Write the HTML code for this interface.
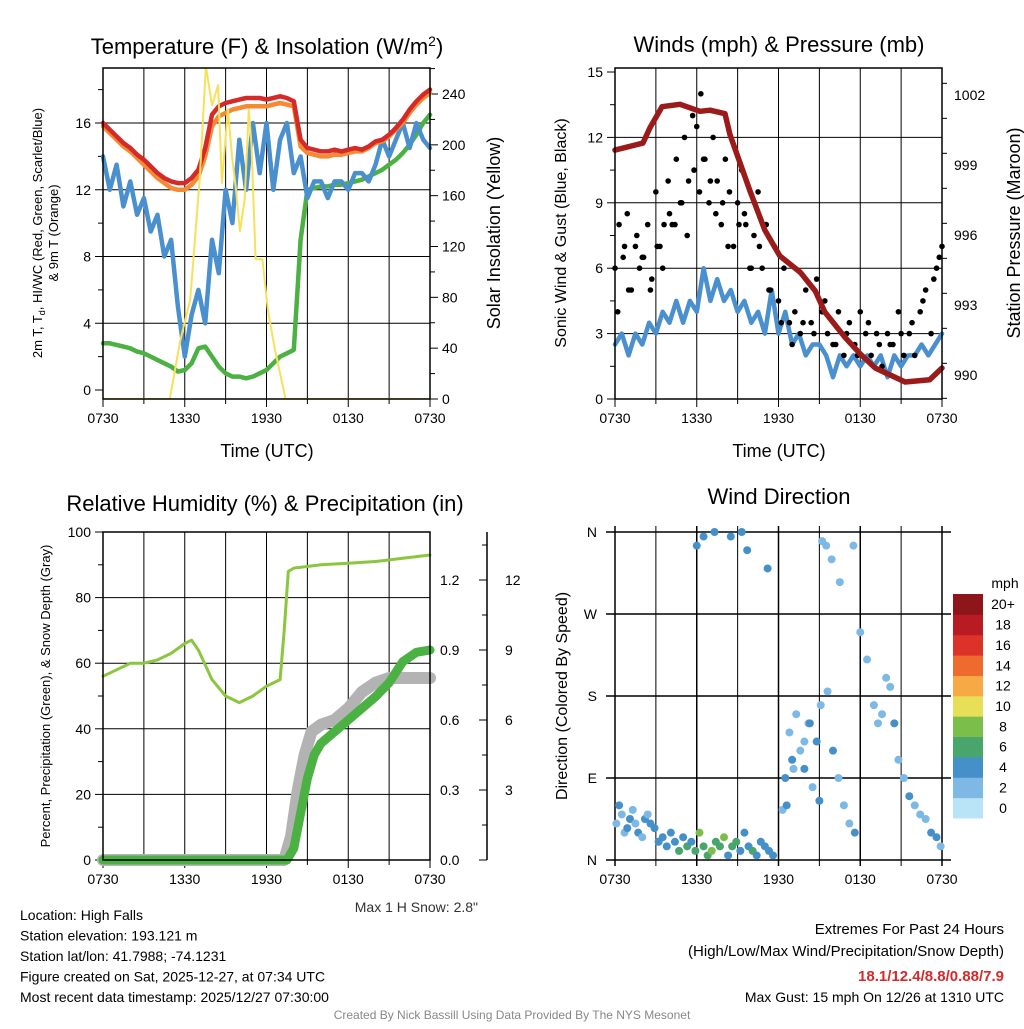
<!DOCTYPE html>
<html><head><meta charset="utf-8"><style>
body{margin:0;background:#fff;}
svg{font-family:"Liberation Sans",Arial,sans-serif;}
</style></head><body>
<svg id="s" width="1024" height="1024" xmlns="http://www.w3.org/2000/svg"></svg>
<script>
// ===== data =====
const xTickLabels=["0730","1330","1930","0130","0730"];
const tempRed=[16,15.6,15.2,14.8,14.5,14.1,13.8,13.4,13.0,12.7,12.5,12.4,12.4,12.7,13.2,14.5,16.5,17.0,17.2,17.3,17.4,17.5,17.5,17.5,17.4,17.5,17.6,17.5,17.3,15.0,14.5,14.4,14.3,14.3,14.4,14.3,14.4,14.5,14.4,14.6,14.9,15.0,15.3,15.7,16.2,16.8,17.3,17.7,18.0];
const tempOrange=[15.8,15.4,15.0,14.6,14.3,13.9,13.5,13.1,12.7,12.4,12.1,12.0,12.0,12.3,12.8,14.0,15.8,16.4,16.6,16.8,16.9,17.0,17.0,17.0,17.0,17.1,17.2,17.1,17.0,14.6,14.2,14.1,14.0,14.0,14.1,14.1,14.2,14.3,14.3,14.5,14.8,14.9,15.2,15.6,16.0,16.6,17.1,17.5,17.8];
const tempGreen=[2.8,2.8,2.7,2.6,2.5,2.3,2.2,2.0,1.8,1.6,1.4,1.1,1.2,1.6,2.5,2.6,2.0,1.4,1.0,0.8,0.8,0.7,0.8,1.0,1.2,1.6,2.0,2.2,2.4,9,12,12.1,12.2,12.2,12.3,12.3,12.4,12.5,12.6,12.8,13,13.2,13.5,13.8,14.2,14.7,15.3,16.0,16.5];
const tempBlue=[14,12,13.5,11,12.5,10.5,11.5,9.5,10.5,8,9,5,2,4.5,6,4,9,7,12,10,15,12,16,13,16,12,15,16,13,14,11.5,12.5,12.5,11.5,12.5,12.5,12,13,13,12.5,13.5,15,14,15,16,14.5,16,15,14.5];
const solarHours=[0,4.9,5.65,6.4,7.1,7.55,8.0,8.45,8.73,9.17,9.47,9.76,10.05,10.4,10.7,10.9,11.2,11.7,12.1,12.6,13.4,24];
const solarValues=[0,0,45,78,173,262,231,247,170,228,191,165,132,157,228,200,110,110,70,40,0,0];
// winds panel
const sonicWind=[2.5,3,2,3,2.5,3.5,3,4,3.5,4.5,3.5,4.5,4,6,4.5,5.5,4.5,5,4,4.5,3.5,4,3,5,3,4,2.5,3,2,2.5,2.5,2,1,2,1.5,2,1.5,2,1.5,2,1,2,1.5,2,2,2.5,2,2.5,3];
const pressureHours=[0,2.05,2.57,3.45,4.77,6.24,6.97,8.07,8.44,9.9,11.0,12.1,13.6,14.7,15.4,16.9,18.0,19.1,21.3,23.1,24];
const pressure=[999.64,999.94,1000.6,1001.5,1001.6,1001.3,1001.35,1001.2,1000.3,997.9,996.2,995.1,994.4,993.6,992.7,991.6,990.9,990.3,989.7,989.8,990.3];
const gustHours=[0,0.3,0.6,0.9,1.2,1.5,1.8,2.1,2.4,2.7,3.0,3.3,3.6,3.9,4.2,4.5,4.8,5.1,5.4,5.7,6.0,6.3,6.6,6.9,7.2,7.5,7.8,8.1,8.4,8.7,9.0,9.3,9.6,9.9,10.2,10.5,10.8,11.1,11.4,11.7,12.0,12.4,12.8,13.2,13.6,14.0,14.4,14.8,15.2,15.6,16.0,16.4,16.8,17.2,17.6,18.0,18.4,18.8,19.2,19.6,20.0,20.4,20.8,21.2,21.6,22.0,22.4,22.8,23.2,23.6,24,
 0.2,0.7,1.0,1.6,2.0,2.6,3.1,3.5,4.0,4.4,4.9,5.3,5.8,6.2,6.5,7.0,7.4,7.9,8.3,9.1,9.5,10.0,10.6,11.3,12.2,13.0,13.8,14.6,15.4,16.2,17.0,17.8,18.6,19.4,20.2,21.0,21.8,22.6,23.4,23.8];
const gustValues=[6,8,6.5,8.5,5,7,6,6.5,8,5.5,9.5,7,8,10,8,11,9,12,10,13,12.5,14,11,9,12,10,8,11,9.5,7,9,10.5,8,6,7.5,9.5,6,8,5,7,4.5,6,3.5,4,3,5,3.5,5.5,4,3,2.5,4,2,3.5,2.5,4,3,2,3,1.5,3,2.5,4,2,3,2,4,5,3,6,7,
 4,7,5,7.5,6.5,5,7,6,8.5,8,9,7.5,10.5,9.5,11,10,8.5,9,7,8,8.5,6,7,5,3.5,2.5,3.5,3,4.5,2.5,3,2,3.5,2.5,2.5,3,3.5,4.5,5.5,6.5];
// RH panel
const rhHours=[0,1,2,3,4,5,6,6.5,7,8,9,10,11,12,13,13.3,13.6,14,16,18,20,22,24];
const rhValues=[56,58,60,60,61,63,66,67,64,55,50,48,50,53,55,70,88,89,90,90.5,91,92,93];
const precipHours=[0,13.5,14,14.5,15,15.5,16,17,18,19,20,21,22,23,24];
const precipValues=[0,0,0.05,0.2,0.35,0.45,0.5,0.55,0.6,0.65,0.7,0.76,0.85,0.89,0.9];
const snowHours=[0,13.3,13.8,14.3,14.8,15.3,16,17,18,19,20,21,22,24];
const snowValues=[0,0,0.1,0.3,0.45,0.55,0.58,0.6,0.65,0.72,0.76,0.78,0.78,0.78];
// wind direction panel
const dirHours=[0.1,0.3,0.5,0.7,0.9,1.1,1.3,1.5,1.7,2.0,2.2,2.4,2.6,2.9,3.2,3.5,3.8,4.1,4.4,4.7,5.0,5.3,5.6,5.9,6.2,6.5,6.8,7.1,7.4,7.7,8.0,8.3,8.6,8.9,9.2,9.5,9.8,10.1,10.4,10.7,11.0,11.3,11.6,6.5,7.3,8.5,9.3,9.7,6.0,11.2,12.3,12.5,12.8,13.0,13.3,13.6,13.9,14.2,14.5,14.8,15.1,12.6,13.1,13.9,14.3,15.0,15.6,16.0,16.4,16.8,17.2,17.6,15.2,15.5,15.9,16.5,17.5,18.0,18.5,19.0,19.3,19.6,19.9,20.2,20.5,20.8,21.2,21.6,22.0,22.4,22.8,23.2,23.6,23.9];
const dirDegrees=[40,60,50,30,35,45,55,40,30,25,45,50,40,35,20,25,15,30,20,10,25,15,20,10,30,15,5,10,20,15,25,5,15,20,10,30,15,10,5,20,15,10,5,355,360,355,360,340,345,320,55,90,140,110,160,120,100,150,80,130,170,60,100,130,150,65,185,120,90,60,40,30,350,345,330,305,345,250,220,170,150,160,200,190,150,110,90,70,60,50,45,30,25,15];
const dirSpeeds=[2,3,2,2,3,3,1,2,3,2,3,2,3,4,4,3,4,3,4,5,4,6,4,5,7,6,5,8,5,6,7,4,6,5,4,3,4,5,4,3,4,3,4,3,4,4,3,4,3,4,1,3,1,3,2,1,3,1,2,3,1,3,2,1,3,3,1,3,1,2,1,3,1,1,2,1,1,1,1,1,2,1,1,1,3,1,1,3,2,2,2,3,3,2];
const cbLabels=["0","2","4","6","8","10","12","14","16","18","20+"];
const cbColors=["#b9e3f7","#7db9e4","#4690c9","#48a56c","#7bbf4a","#e6df57","#f6a945","#ef6a2d","#dc3229","#b91b24","#8e1519"];

// ===== helpers =====
const S=document.getElementById('s');const NS="http://www.w3.org/2000/svg";
function el(tag,attrs,txt,parent){const e=document.createElementNS(NS,tag);for(const k in attrs)e.setAttribute(k,attrs[k]);if(txt!==undefined)e.textContent=txt;(parent||S).appendChild(e);return e;}
function txt(x,y,s,size,anchor,extra){return el('text',Object.assign({x:x,y:y,'font-size':size,'text-anchor':anchor||'middle',fill:'#000'},extra||{}),s);}
function lin(a0,a1,p0,p1){return v=>p0+(v-a0)*(p1-p0)/(a1-a0);}
function path(xs,ys,fx,fy,stroke,w,name,clip){let d='';for(let i=0;i<xs.length;i++)d+=(i?'L':'M')+fx(xs[i]).toFixed(1)+','+fy(ys[i]).toFixed(1);const a={d:d,fill:'none',stroke:stroke,'stroke-width':w,'stroke-linejoin':'round','stroke-linecap':'round'};if(clip)a['clip-path']='url(#'+clip+')';const p=el('path',a);return p;}
const half=n=>Array.from({length:n},(_,i)=>i*0.5);
const defs=el('defs',{});
function clipRect(id,x0,y0,x1,y1){const c=el('clipPath',{id:id},undefined,defs);el('rect',{x:x0,y:y0,width:x1-x0,height:y1-y0},undefined,c);}
function xAxis(x0,x1,y){const fx=lin(0,24,x0,x1);
 for(let h=0;h<=24;h+=3){const x=fx(h);const l=el('line',{x1:x,x2:x,y1:y,y2:y+(h%6==0?8:5),stroke:'#000','stroke-width':1});}
 xTickLabels.forEach((s,i)=>{const t=txt(fx(i*6),y+24,s,14);});
 return fx;}
function grid(x0,x1,y0,y1,fx,ys){for(let h=3;h<24;h+=3){el('line',{x1:fx(h),x2:fx(h),y1:y0,y2:y1,stroke:'#000','stroke-width':1});}
 ys.forEach(y=>el('line',{x1:x0,x2:x1,y1:y,y2:y,stroke:'#000','stroke-width':1}));}
function box(x0,y0,x1,y1,name){const r=el('rect',{x:x0,y:y0,width:x1-x0,height:y1-y0,fill:'none',stroke:'#000','stroke-width':1.5});}

// ===== Panel 1: temperature =====
{const X0=103,X1=430,Y0=68,Y1=399;
 clipRect('c1',X0,Y0,X1,Y1);
 const fx=xAxis(X0,X1,Y1);const fy=lin(0,16,390,123);const fs=lin(0,240,399,94);
 grid(X0,X1,Y0,Y1,fx,[fy(4),fy(8),fy(12),fy(16)]);
 for(let v=0;v<=18;v+=2){const y=fy(v);el('line',{x1:X0-(v%4==0?8:5),x2:X0,y1:y,y2:y,stroke:'#000'});}
 [0,4,8,12,16].forEach(v=>{const t=txt(X0-12,fy(v)+5,String(v),14,'end');});
 for(let v=0;v<=260;v+=20){const y=fs(v);if(y<Y0)continue;el('line',{x1:X1,x2:X1+(v%40==0?8:5),y1:y,y2:y,stroke:'#000'});}
 [0,40,80,120,160,200,240].forEach(v=>{const t=txt(X1+12,fs(v)+5,String(v),14,'start');});
 path(half(49),tempGreen,fx,fy,'#4cb143',4.5,'hiwc-line');
 path(half(49),tempBlue,fx,fy,'#4a90cf',4.5,'dewpoint-line');
 path(half(49),tempOrange,fx,fy,'#f58a33',4.5,'temp-9m-line');
 path(half(49),tempRed,fx,fy,'#d42a2a',4.5,'temp-2m-line');
 path(solarHours,solarValues,fx,fs,'#f6e25a',2,'solar-line','c1');
 box(X0,Y0,X1,Y1,'temp-plot-frame');
 const t=el('text',{x:267,y:54,'font-size':22,'text-anchor':'middle'});t.innerHTML='Temperature (F) &amp; Insolation (W/m<tspan dy="-8" font-size="14">2</tspan><tspan dy="8">)</tspan>';
 let a=txt(267,457,'Time (UTC)',18);
 a=el('text',{'font-size':13,'text-anchor':'middle',transform:'translate(42,233) rotate(-90)'});a.innerHTML='2m T, T<tspan dy="3" font-size="9">d</tspan><tspan dy="-3">, HI/WC (Red, Green, Scarlet/Blue)</tspan>';
 a=el('text',{'font-size':13,'text-anchor':'middle',transform:'translate(58,233) rotate(-90)'},'& 9m T (Orange)');
 a=el('text',{'font-size':18,'text-anchor':'middle',transform:'translate(500,233) rotate(-90)'},'Solar Insolation (Yellow)');
}
// ===== Panel 2: winds =====
{const X0=615,X1=942,Y0=68,Y1=399;
 const fx=xAxis(X0,X1,Y1);const fy=lin(0,15,399,72);const fp=lin(990,1002,375,95);
 grid(X0,X1,Y0,Y1,fx,[fy(3),fy(6),fy(9),fy(12)]);
 for(let v=0;v<=15;v+=1.5){const y=fy(v);el('line',{x1:X0-(v%3==0?8:5),x2:X0,y1:y,y2:y,stroke:'#000'});}
 [0,3,6,9,12,15].forEach(v=>{const t=txt(X0-12,fy(v)+5,String(v),14,'end');});
 for(let v=989;v<=1003;v+=1.5){const y=fp(v);if(y<Y0||y>Y1)continue;el('line',{x1:X1,x2:X1+((v-990)%3==0?8:5),y1:y,y2:y,stroke:'#000'});}
 [990,993,996,999,1002].forEach(v=>{const t=txt(X1+12,fp(v)+5,String(v),14,'start');});
 path(half(49),sonicWind,fx,fy,'#4a90cf',4.5,'sonic-wind-line');
 gustHours.forEach((h,i)=>{const c=el('circle',{cx:fx(h),cy:fy(gustValues[i]),r:2.8,fill:'#000'});});
 path(pressureHours,pressure,fx,fp,'#9b1b1b',5.5,'pressure-line');
 box(X0,Y0,X1,Y1,'winds-plot-frame');
 let a=txt(779,52,'Winds (mph) & Pressure (mb)',22);
 a=txt(779,457,'Time (UTC)',18);
 a=el('text',{'font-size':16,'text-anchor':'middle',transform:'translate(566,233) rotate(-90)'},'Sonic Wind & Gust (Blue, Black)');
 a=el('text',{'font-size':18,'text-anchor':'middle',transform:'translate(1020,233) rotate(-90)'},'Station Pressure (Maroon)');
}
// ===== Panel 3: RH & precip =====
{const X0=103,X1=430,Y0=532,Y1=860;
 const fx=xAxis(X0,X1,Y1);const fy=lin(0,100,860,532);const fr=lin(0,1.2,860,580);
 grid(X0,X1,Y0,Y1,fx,[fy(20),fy(40),fy(60),fy(80)]);
 for(let v=0;v<=100;v+=10){const y=fy(v);el('line',{x1:X0-(v%20==0?8:5),x2:X0,y1:y,y2:y,stroke:'#000'});}
 [0,20,40,60,80,100].forEach(v=>{const t=txt(X0-12,fy(v)+5,String(v),14,'end');});
 el('line',{x1:487,x2:487,y1:532,y2:860,stroke:'#000','stroke-width':1.5});
 for(let v=0;v<=1.35;v+=0.15){const y=fr(v);el('line',{x1:487-(Math.round(v*100)%30==0?8:5),x2:487,y1:y,y2:y,stroke:'#000'});}
 [0,0.3,0.6,0.9,1.2].forEach(v=>{const t=txt(440,fr(v)+5,v.toFixed(1),14,'start');});
 [3,6,9,12].forEach(v=>{const t=txt(505,fr(v/10)+5,String(v),14,'start');});
 path(snowHours,snowValues,fx,fr,'#b3b3b3',12,'snow-depth-line');
 path(precipHours,precipValues,fx,fr,'#4cb143',9,'precip-line');
 path(rhHours,rhValues,fx,fy,'#8cc63f',3,'rh-line');
 box(X0,Y0,X1,Y1,'rh-plot-frame');
 let a=txt(265,511,'Relative Humidity (%) & Precipitation (in)',22);
 a=el('text',{'font-size':13,'text-anchor':'middle',transform:'translate(50,696) rotate(-90)'},'Percent, Precipitation (Green), & Snow Depth (Gray)');
 a=txt(478,912,'Max 1 H Snow: 2.8"',14,'end',{fill:'#333'});
}
// ===== Panel 4: wind direction =====
{const X0=615,X1=942,Y0=532,Y1=860;
 const fx=lin(0,24,X0,X1);const fd=lin(0,360,860,532);
 for(let h=0;h<=24;h+=3){el('line',{x1:fx(h),x2:fx(h),y1:526,y2:866,stroke:'#000','stroke-width':(h%6==0?1.5:1)});}
 xTickLabels.forEach((s,i)=>{const t=txt(fx(i*6),884,s,14);});
 [0,90,180,270,360].forEach(v=>el('line',{x1:606,x2:951,y1:fd(v),y2:fd(v),stroke:'#000','stroke-width':1.5}));
 ['N','E','S','W','N'].forEach((s,i)=>{const t=txt(597,fd(i*90)+5,s,14,'end');});
 dirHours.forEach((h,i)=>{const k=Math.min(10,Math.floor(dirSpeeds[i]/2+0.5));const c=el('circle',{cx:fx(h),cy:fd(dirDegrees[i]),r:4,fill:cbColors[k]});});
 let a=txt(779,504,'Wind Direction',22);
 a=el('text',{'font-size':16,'text-anchor':'middle',transform:'translate(567,696) rotate(-90)'},'Direction (Colored By Speed)');
 const cbH=224/11;
 cbLabels.forEach((l,i)=>{const y=818-(i+1)*cbH;const r=el('rect',{x:953,y:y,width:30,height:cbH+0.5,fill:cbColors[i]});
  const t=txt(1003,y+cbH/2+5,l,14);});
 a=txt(1005,588,'mph',14);
}
// ===== footer =====
const left=["Location: High Falls","Station elevation: 193.121 m","Station lat/lon: 41.7988; -74.1231","Figure created on Sat, 2025-12-27, at 07:34 UTC","Most recent data timestamp: 2025/12/27 07:30:00"];
left.forEach((s,i)=>{const t=txt(20,920+i*20.5,s,14,'start');});
let f=txt(1004,934,'Extremes For Past 24 Hours',15,'end');
f=txt(1004,956,'(High/Low/Max Wind/Precipitation/Snow Depth)',15,'end');
f=txt(1004,981,'18.1/12.4/8.8/0.88/7.9',15,'end',{fill:'#d42a2a','font-weight':'bold'});
f=txt(1004,1002,'Max Gust: 15 mph On 12/26 at 1310 UTC',14,'end');
f=txt(512,1019,'Created By Nick Bassill Using Data Provided By The NYS Mesonet',12,'middle',{fill:'#888'});
</script>
</body></html>
